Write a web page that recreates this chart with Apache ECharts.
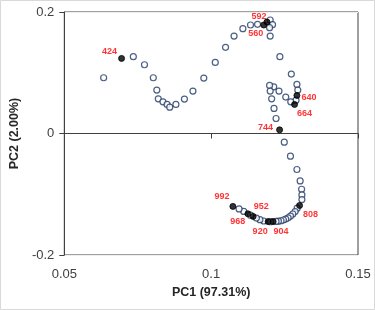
<!DOCTYPE html>
<html>
<head>
<meta charset="utf-8">
<script src="https://cdn.jsdelivr.net/npm/echarts@6/dist/echarts.min.js"></script>
<style>
  html, body { margin: 0; padding: 0; background: #fff; }
  #chart { width: 375px; height: 310px; }
</style>
</head>
<body>
<div id="chart"></div>
<script>
// PC1 / PC2 scores, in spectral order
var pc1 = [0.0634, 0.0695, 0.0735, 0.0773, 0.0803, 0.0815, 0.0820, 0.0836, 0.0850, 0.0859,
  0.0880, 0.0909, 0.0938, 0.0975, 0.1014, 0.1049, 0.1078, 0.1108, 0.1134, 0.1158,
  0.1179, 0.1190, 0.1201, 0.1209, 0.1199, 0.1201, 0.1234, 0.1273, 0.1292, 0.1295,
  0.1292, 0.1289, 0.1284, 0.1271, 0.1254, 0.1231, 0.1213, 0.1199, 0.1201, 0.1206,
  0.1214, 0.1221, 0.1233, 0.1249, 0.1270, 0.1292, 0.1303, 0.1308, 0.1309, 0.1309,
  0.1301, 0.1293, 0.1286, 0.1278, 0.1270, 0.1262, 0.1254, 0.1246, 0.1238, 0.1229,
  0.1221, 0.1211, 0.1202, 0.1194, 0.1179, 0.1166, 0.1154, 0.1143, 0.1134, 0.1125,
  0.1111, 0.1095, 0.1074];
var pc2 = [0.0918, 0.1236, 0.1264, 0.1132, 0.0918, 0.0714, 0.0571, 0.0522, 0.0478, 0.0434,
  0.0478, 0.0566, 0.0698, 0.0912, 0.1170, 0.1418, 0.1604, 0.1725, 0.1786, 0.1797,
  0.1786, 0.1835, 0.1868, 0.1791, 0.1742, 0.1604, 0.1264, 0.0978, 0.0808, 0.0714,
  0.0626, 0.0549, 0.0478, 0.0522, 0.0599, 0.0698, 0.0769, 0.0791, 0.0698, 0.0571,
  0.0412, 0.0247, 0.0060, -0.0143, -0.0374, -0.0593, -0.0780, -0.0918, -0.1011, -0.1088,
  -0.1185, -0.1230, -0.1285, -0.1325, -0.1360, -0.1388, -0.1408, -0.1424, -0.1436, -0.1443,
  -0.1448, -0.1450, -0.1452, -0.1450, -0.1440, -0.1418, -0.1392, -0.1365, -0.1345, -0.1322,
  -0.1282, -0.1242, -0.1200];

// highlighted wavelengths (nm) and their index in the arrays above
var markIndex = [1, 20, 21, 30, 32, 42, 50, 61, 63, 67, 69, 72];
var markLabel = ['424', '560', '592', '640', '664', '744', '808', '904', '920', '952', '968', '992'];

var xTicks = [0.05, 0.1, 0.15];
var yTicks = [-0.2, 0, 0.2];

// where each red label sits relative to its point
var labelOffset = {
  '424': [-12, -7], '560': [-8, 9], '592': [-8, -6], '640': [12, 2],
  '664': [10, 9], '744': [-14, -2], '808': [11, 9], '904': [8, 10],
  '920': [-8, 10], '952': [8, -10], '968': [-10, 8], '992': [-11, -10]
};

var openPts = [];
var filledPts = [];
for (var i = 0; i < pc1.length; i++) {
  var k = markIndex.indexOf(i);
  if (k < 0) {
    openPts.push([pc1[i], pc2[i]]);
  } else {
    filledPts.push({
      value: [pc1[i], pc2[i]],
      label: { show: true, formatter: markLabel[k], position: 'inside', offset: labelOffset[markLabel[k]] }
    });
  }
}

var chart = echarts.init(document.getElementById('chart'));
var axisColor = '#404040';
chart.setOption({
  animation: false,
  backgroundColor: '#fff',
  graphic: [{
    type: 'rect',
    shape: { x: 0.5, y: 0.5, width: 374, height: 309 },
    style: { fill: 'none', stroke: '#d9d9d9', lineWidth: 1 },
    silent: true
  }],
  grid: {
    left: 53, right: 17, top: 12, bottom: 55,
    show: true, borderColor: axisColor, borderWidth: 1
  },
  xAxis: {
    type: 'value',
    min: xTicks[0], max: xTicks[2], interval: 0.05,
    name: 'PC1 (97.31%)',
    nameLocation: 'middle', nameGap: 26,
    nameTextStyle: { fontFamily: 'Liberation Sans', fontWeight: 'bold', fontSize: 12.5, color: '#262626' },
    axisLine: { show: true, lineStyle: { color: axisColor } },
    axisTick: { show: true, length: 5, lineStyle: { color: axisColor } },
    axisLabel: { margin: 13, fontFamily: 'Liberation Sans', fontSize: 13, color: '#404040' },
    splitLine: { show: false }
  },
  yAxis: {
    type: 'value',
    min: yTicks[0], max: yTicks[2], interval: 0.2,
    name: 'PC2 (2.00%)',
    nameLocation: 'middle', nameGap: 37,
    nameTextStyle: { fontFamily: 'Liberation Sans', fontWeight: 'bold', fontSize: 12.5, color: '#262626' },
    axisLine: { show: true, lineStyle: { color: axisColor } },
    axisTick: { show: true, length: 5, lineStyle: { color: axisColor } },
    axisLabel: { margin: 10, fontFamily: 'Liberation Sans', fontSize: 13, color: '#404040' },
    splitLine: { show: true, lineStyle: { color: '#eeeeee' } }
  },
  series: [
    {
      type: 'scatter',
      data: openPts,
      symbol: 'circle',
      symbolSize: 6,
      itemStyle: { color: '#fff', borderColor: '#1f3864', borderWidth: 1.2 },
      z: 2
    },
    {
      type: 'scatter',
      data: filledPts,
      symbol: 'circle',
      symbolSize: 6,
      itemStyle: { color: '#000', borderColor: '#000', borderWidth: 1 },
      label: { color: '#ff0000', fontFamily: 'Liberation Sans', fontWeight: 'bold', fontSize: 9 },
      z: 3
    }
  ]
});
</script>
</body>
</html>
